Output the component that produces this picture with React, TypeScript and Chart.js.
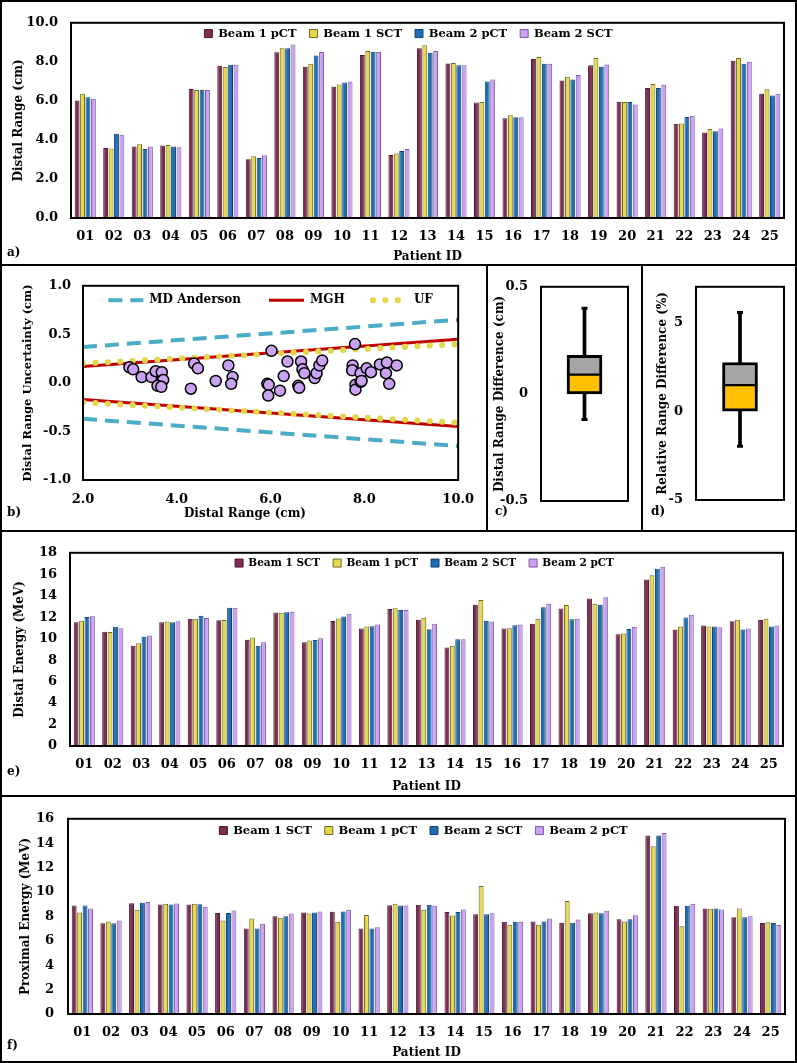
import React, { useEffect, useRef } from 'react';
import { Chart, registerables } from 'chart.js';

Chart.register(...registerables);

const FONT = "'DejaVu Serif', serif";
Chart.defaults.font.family = FONT;
Chart.defaults.font.size = 13;
(Chart.defaults.font as any).weight = 'bold';
Chart.defaults.color = '#000';

// ---------- shared categories ----------
const patientIds = ['01','02','03','04','05','06','07','08','09','10','11','12','13','14','15','16','17','18','19','20','21','22','23','24','25'];

// ---------- panel a: distal range (cm) ----------
const rangeB1pCT = [6.02,3.59,3.66,3.71,6.61,7.80,3.01,8.49,7.75,6.72,8.35,3.23,8.69,7.92,5.92,5.11,8.14,7.05,7.82,5.96,6.66,4.83,4.38,8.05,6.37];
const rangeB1SCT = [6.36,3.56,3.78,3.74,6.56,7.74,3.16,8.69,7.90,6.84,8.55,3.31,8.85,7.94,5.94,5.26,8.25,7.24,8.20,5.94,6.86,4.84,4.56,8.20,6.59];
const rangeB2pCT = [6.19,4.31,3.54,3.66,6.57,7.85,3.08,8.69,8.32,6.94,8.52,3.43,8.47,7.82,6.99,5.16,7.90,7.10,7.75,5.94,6.66,5.17,4.44,7.90,6.27];
const rangeB2SCT = [6.11,4.26,3.66,3.63,6.56,7.85,3.21,8.89,8.50,6.99,8.50,3.53,8.55,7.82,7.09,5.16,7.90,7.32,7.87,5.81,6.82,5.24,4.59,8.00,6.37];
const rangeTicks = [0, 2, 4, 6, 8, 10];

// ---------- panel e: distal energy (MeV) ----------
const distalE_B1SCT = [11.52,10.64,9.33,11.52,11.86,11.71,9.91,12.44,9.66,11.65,10.95,12.77,11.77,9.18,13.17,10.95,11.40,12.80,13.75,10.40,15.52,10.85,11.22,11.62,11.74];
const distalE_B1pCT = [11.68,10.61,9.57,11.59,11.86,11.74,10.12,12.41,9.82,11.89,11.13,12.84,11.95,9.33,13.60,10.98,11.86,13.14,13.26,10.49,15.91,11.13,11.13,11.77,11.86];
const distalE_B2SCT = [12.01,11.10,10.18,11.52,12.13,12.87,9.33,12.47,9.88,12.07,11.16,12.68,10.88,9.94,11.68,11.25,12.93,11.80,13.17,10.91,16.52,11.98,11.13,10.85,11.13];
const distalE_B2pCT = [12.10,10.98,10.30,11.62,11.92,12.87,9.66,12.50,10.03,12.32,11.31,12.68,11.40,9.94,11.59,11.31,13.26,11.86,13.87,11.10,16.71,12.23,11.07,10.95,11.22];
const distalETicks = [0, 2, 4, 6, 8, 10, 12, 14, 16, 18];

// ---------- panel f: proximal energy (MeV) ----------
const proxE_B1SCT = [8.89,7.43,9.08,8.97,8.97,8.28,7.00,8.01,8.31,8.39,7.00,8.92,8.95,8.36,8.17,7.56,7.59,7.48,8.25,7.77,14.64,8.87,8.65,7.93,7.45];
const proxE_B1pCT = [8.31,7.59,8.55,9.03,9.03,7.67,7.83,7.88,8.23,7.56,8.12,9.03,8.55,8.07,10.49,7.32,7.32,9.27,8.31,7.59,13.74,7.19,8.63,8.65,7.53];
const proxE_B2SCT = [8.89,7.43,9.11,8.97,9.00,8.28,7.00,8.01,8.31,8.41,7.00,8.89,8.95,8.36,8.17,7.56,7.59,7.48,8.25,7.77,14.64,8.87,8.65,7.93,7.45];
const proxE_B2pCT = [8.65,7.67,9.19,9.05,8.79,8.49,7.40,8.23,8.41,8.55,7.11,8.89,8.87,8.57,8.25,7.56,7.83,7.75,8.47,8.09,14.83,9.03,8.57,8.01,7.29];
const proxETicks = [0, 2, 4, 6, 8, 10, 12, 14, 16];

// ---------- panel b: distal range uncertainty ----------
const uncX = [2.99,3.07,3.25,3.46,3.55,3.68,3.71,3.59,3.67,4.30,4.37,4.45,4.83,5.10,5.19,5.16,5.93,5.96,5.95,6.02,6.20,6.28,6.36,6.59,6.61,6.65,6.68,6.72,6.94,6.98,7.04,7.10,7.80,7.75,7.74,7.81,7.81,7.92,7.92,7.94,8.05,8.14,8.33,8.46,8.48,8.53,8.69];
const uncY = [0.16,0.14,0.06,0.06,0.12,0.11,0.03,-0.03,-0.04,-0.06,0.20,0.15,0.02,0.18,0.06,-0.01,-0.01,-0.02,-0.13,0.33,-0.08,0.07,0.22,-0.03,-0.05,0.22,0.14,0.10,0.05,0.10,0.18,0.23,0.40,0.18,0.13,-0.02,-0.07,0.10,0.01,0.02,0.15,0.11,0.19,0.10,0.21,-0.01,0.18];
const bandX = [2, 10];
const mdaUpper = [0.37, 0.65];
const mdaLower = [-0.37, -0.65];
const mghUpper = [0.17, 0.45];
const mghLower = [-0.17, -0.45];
const ufUpper = [0.20, 0.40];
const ufLower = [-0.20, -0.41];
const uncXTicks = [2, 4, 6, 8, 10];
const uncYTicks = [-1, -0.5, 0, 0.5, 1];

// ---------- panels c, d: box plots (min, q1, median, q3, max) ----------
const rangeDiffBox = [-0.12, 0.0, 0.09, 0.18, 0.40];
const rangeDiffTicks = [-0.5, 0, 0.5];
const relDiffBox = [-1.97, 0.0, 1.47, 2.74, 5.56];
const relDiffRange = [-5, 7];
const relDiffTicks = [-5, 0, 5];

const C_MAROON = '#7d2f52';
const C_MAROON_B = '#4a1631';
const C_YELLOW = '#e6da4c';
const C_YELLOW_B = '#6e6622';
const C_BLUE = '#1e6eb4';
const C_BLUE_B = '#10426e';
const C_LAV = '#c9a3f1';
const C_LAV_B = '#7e58aa';

// ---------- plugins ----------
const framePlugin = {
  id: 'plotFrame',
  afterDraw(chart: any) {
    const { ctx, chartArea: a } = chart;
    ctx.save();
    ctx.strokeStyle = '#000';
    ctx.lineWidth = 2;
    ctx.strokeRect(a.left, a.top, a.right - a.left, a.bottom - a.top);
    ctx.restore();
  },
};

// places the library's own legend inside the plot frame (no space reserved above the plot)
const legendInside = {
  id: 'legendInside',
  beforeLayout(chart: any) {
    const lg = chart.legend;
    if (lg && !lg.__inside) {
      const fit = lg.fit.bind(lg);
      lg.fit = function () {
        fit();
        this.__h = this.height;
        this.height = 0;
      };
      lg.__inside = true;
    }
  },
  afterLayout(chart: any, _args: any, opts: any) {
    const lg = chart.legend;
    if (!lg) return;
    const a = chart.chartArea;
    const pad = lg.options.labels.padding || 0;
    const dx = opts.offsetX || 0;
    lg.left = a.left - 60 + dx;
    lg.right = a.right + 60 + dx;
    lg.width = lg.right - lg.left;
    lg.top = a.top + (opts.offset || 0) - pad;
    lg.bottom = lg.top + (lg.__h || 0);
  },
};

type Series = { label: string; data: number[]; fill: string; stroke: string };
type BarPanel = {
  width: number; height: number;
  plotLeft: number; plotTop: number; plotRight: number; plotBottom: number;
  series: Series[]; yTicks: number[]; decimals: number; yTitle: string;
  yTitlePad: number; yTickPad: number; xTickPad: number; xTitlePad: number;
  legendOffset: number; legendOffsetX: number; legendSize: number;
};

function barConfig(p: BarPanel): any {
  return {
    type: 'bar',
    data: {
      labels: patientIds,
      datasets: p.series.map((s) => ({
        label: s.label,
        data: s.data,
        backgroundColor: s.fill,
        borderColor: s.stroke,
        borderWidth: 1,
        categoryPercentage: 0.76,
        barPercentage: 0.9,
      })),
    },
    options: {
      responsive: false,
      animation: false,
      devicePixelRatio: 1,
      layout: { padding: { left: 0, top: p.plotTop, right: p.width - p.plotRight, bottom: 0 } },
      scales: {
        x: {
          grid: { display: false, drawTicks: false },
          border: { display: false },
          ticks: { padding: p.xTickPad, maxRotation: 0, autoSkip: false },
          title: { display: true, text: 'Patient ID', font: { size: 12 }, padding: { top: 0, bottom: p.xTitlePad } },
          afterFit: (s: any) => { s.height = p.height - p.plotBottom; },
        },
        y: {
          min: p.yTicks[0],
          max: p.yTicks[p.yTicks.length - 1],
          afterBuildTicks: (s: any) => { s.ticks = p.yTicks.map((v) => ({ value: v })); },
          ticks: { padding: p.yTickPad, callback: (v: any) => Number(v).toFixed(p.decimals) },
          grid: { display: false, drawTicks: false },
          border: { display: false },
          title: { display: true, text: p.yTitle, font: { size: 12 }, padding: { top: p.yTitlePad, bottom: 0 } },
          afterFit: (s: any) => { s.width = p.plotLeft; },
        },
      },
      plugins: {
        legend: {
          position: 'top',
          labels: { boxWidth: 8, boxHeight: 8, padding: 13, font: { size: p.legendSize, weight: 'bold' } },
        },
        legendInside: { offset: p.legendOffset, offsetX: p.legendOffsetX },
        tooltip: { enabled: false },
      },
    },
    plugins: [legendInside, framePlugin],
  };
}

function scatterConfig(): any {
  const W = 484, H = 264, L = 81, T = 17, R = 460, B = 214;
  const line = (label: string, ys: number[], color: string, width: number, dash: number[], cap: string, rank: number) => ({
    label,
    legendRank: rank,
    data: bandX.map((x, i) => ({ x, y: ys[i] })),
    showLine: true,
    pointRadius: 0,
    pointStyle: 'line',
    borderColor: color,
    backgroundColor: color,
    borderWidth: width,
    borderDash: dash,
    borderCapStyle: cap,
  });
  return {
    type: 'scatter',
    data: {
      datasets: [
        {
          label: 'Patients',
          data: uncX.map((x, i) => ({ x, y: uncY[i] })),
          pointRadius: 5.5,
          backgroundColor: C_LAV,
          borderColor: '#000',
          borderWidth: 1.5,
        },
        line('UF', ufUpper, '#e3d64a', 6, [0.1, 12.3], 'round', 3),
        line('UF', ufLower, '#e3d64a', 6, [0.1, 12.3], 'round', 0),
        line('MGH', mghUpper, '#c00000', 3, [], 'butt', 2),
        line('MGH', mghLower, '#c00000', 3, [], 'butt', 0),
        line('MD Anderson', mdaUpper, '#4bacc6', 4, [14, 8], 'butt', 1),
        line('MD Anderson', mdaLower, '#4bacc6', 4, [14, 8], 'butt', 0),
      ],
    },
    options: {
      responsive: false,
      animation: false,
      devicePixelRatio: 1,
      layout: { padding: { left: 0, top: T, right: W - R, bottom: 0 } },
      scales: {
        x: {
          type: 'linear',
          min: uncXTicks[0],
          max: uncXTicks[uncXTicks.length - 1],
          afterBuildTicks: (s: any) => { s.ticks = uncXTicks.map((v) => ({ value: v })); },
          ticks: { padding: 12, maxRotation: 0, callback: (v: any) => Number(v).toFixed(1) },
          grid: { display: false, drawTicks: false },
          border: { display: false },
          title: { display: false },
          afterFit: (s: any) => { s.height = H - B; },
        },
        y: {
          min: uncYTicks[0],
          max: uncYTicks[uncYTicks.length - 1],
          afterBuildTicks: (s: any) => { s.ticks = uncYTicks.map((v) => ({ value: v })); },
          ticks: { padding: 12, callback: (v: any) => Number(v).toFixed(1) },
          grid: { display: false, drawTicks: false },
          border: { display: false },
          title: { display: true, text: 'Distal Range Uncertainty (cm)', font: { size: 11.5 }, padding: { top: 19, bottom: 0 } },
          afterFit: (s: any) => { s.width = L; },
        },
      },
      plugins: {
        legend: {
          position: 'top',
          labels: {
            usePointStyle: true,
            pointStyleWidth: 35,
            padding: 28,
            font: { size: 12, weight: 'bold' },
            generateLabels: (chart: any) =>
              chart.data.datasets
                .map((d: any, i: number) => ({ d, i }))
                .filter((o: any) => o.d.legendRank > 0)
                .sort((a: any, b: any) => a.d.legendRank - b.d.legendRank)
                .map(({ d, i }: any) => ({
                  text: d.label,
                  datasetIndex: i,
                  strokeStyle: d.borderColor,
                  fillStyle: d.borderColor,
                  lineWidth: d.borderWidth,
                  lineDash: d.borderDash,
                  lineCap: d.borderCapStyle,
                  pointStyle: 'line',
                  hidden: false,
                  fontColor: '#000',
                })),
          },
        },
        legendInside: { offset: 8.5, offsetX: 0 },
        tooltip: { enabled: false },
      },
    },
    plugins: [legendInside, framePlugin],
  };
}

type BoxPanel = {
  width: number; height: number; plotLeft: number; plotTop: number; plotRight: number; plotBottom: number;
  stats: number[]; range: number[]; ticks: number[]; title: string; titlePad: number; tickPad: number;
};

function boxConfig(p: BoxPanel): any {
  const [mn, q1, med, q3, mx] = p.stats;
  const cap = (v: number) => ({
    type: 'line',
    data: [v],
    showLine: false,
    pointStyle: 'line',
    pointRadius: 3,
    pointBorderWidth: 3,
    pointBorderColor: '#000',
    pointBackgroundColor: '#000',
  });
  return {
    type: 'bar',
    data: {
      labels: [''],
      datasets: [
        { data: [[q1, med]], backgroundColor: '#ffc000', borderColor: '#000', borderWidth: { top: 1.5, left: 3, right: 3, bottom: 3 }, borderSkipped: false, barThickness: 35, grouped: false },
        { data: [[med, q3]], backgroundColor: '#a6a6a6', borderColor: '#000', borderWidth: { top: 3, left: 3, right: 3, bottom: 1.5 }, borderSkipped: false, barThickness: 35, grouped: false },
        { data: [[mn, mx]], backgroundColor: '#000', borderWidth: 0, barThickness: 3, grouped: false },
        cap(mx),
        cap(mn),
      ],
    },
    options: {
      responsive: false,
      animation: false,
      devicePixelRatio: 1,
      layout: { padding: { left: 0, top: p.plotTop, right: p.width - p.plotRight, bottom: p.height - p.plotBottom } },
      scales: {
        x: { display: false },
        y: {
          min: p.range[0],
          max: p.range[1],
          afterBuildTicks: (s: any) => { s.ticks = p.ticks.map((v) => ({ value: v })); },
          ticks: { padding: p.tickPad },
          grid: { display: false, drawTicks: false },
          border: { display: false },
          title: { display: true, text: p.title, font: { size: 12 }, padding: { top: p.titlePad, bottom: 0 } },
          afterFit: (s: any) => { s.width = p.plotLeft; },
        },
      },
      plugins: { legend: { display: false }, tooltip: { enabled: false } },
    },
    plugins: [framePlugin],
  };
}

function ChartCanvas(props: { left: number; top: number; width: number; height: number; make: () => any }) {
  const ref = useRef<HTMLCanvasElement>(null);
  useEffect(() => {
    if (!ref.current) return;
    const chart = new Chart(ref.current, props.make());
    return () => chart.destroy();
  }, []);
  return (
    <canvas
      ref={ref}
      width={props.width}
      height={props.height}
      style={{ position: 'absolute', left: props.left, top: props.top, width: props.width, height: props.height }}
    />
  );
}

const seriesA: Series[] = [
  { label: 'Beam 1 pCT', data: rangeB1pCT, fill: C_MAROON, stroke: C_MAROON_B },
  { label: 'Beam 1 SCT', data: rangeB1SCT, fill: C_YELLOW, stroke: C_YELLOW_B },
  { label: 'Beam 2 pCT', data: rangeB2pCT, fill: C_BLUE, stroke: C_BLUE_B },
  { label: 'Beam 2 SCT', data: rangeB2SCT, fill: C_LAV, stroke: C_LAV_B },
];
const seriesE: Series[] = [
  { label: 'Beam 1 SCT', data: distalE_B1SCT, fill: C_MAROON, stroke: C_MAROON_B },
  { label: 'Beam 1 pCT', data: distalE_B1pCT, fill: C_YELLOW, stroke: C_YELLOW_B },
  { label: 'Beam 2 SCT', data: distalE_B2SCT, fill: C_BLUE, stroke: C_BLUE_B },
  { label: 'Beam 2 pCT', data: distalE_B2pCT, fill: C_LAV, stroke: C_LAV_B },
];
const seriesF: Series[] = [
  { label: 'Beam 1 SCT', data: proxE_B1SCT, fill: C_MAROON, stroke: C_MAROON_B },
  { label: 'Beam 1 pCT', data: proxE_B1pCT, fill: C_YELLOW, stroke: C_YELLOW_B },
  { label: 'Beam 2 SCT', data: proxE_B2SCT, fill: C_BLUE, stroke: C_BLUE_B },
  { label: 'Beam 2 pCT', data: proxE_B2pCT, fill: C_LAV, stroke: C_LAV_B },
];

const makeA = () => barConfig({
  width: 793, height: 262, plotLeft: 69, plotTop: 15, plotRight: 782, plotBottom: 216,
  series: seriesA, yTicks: rangeTicks, decimals: 1, yTitle: 'Distal Range (cm)',
  yTitlePad: 10, yTickPad: 13, xTickPad: 11, xTitlePad: 0,
  legendOffset: 5, legendOffsetX: -19, legendSize: 11.5,
});
const makeE = () => barConfig({
  width: 793, height: 263, plotLeft: 68, plotTop: 17, plotRight: 781, plotBottom: 214,
  series: seriesE, yTicks: distalETicks, decimals: 0, yTitle: 'Distal Energy (MeV)',
  yTitlePad: 11, yTickPad: 13, xTickPad: 11, xTitlePad: 1,
  legendOffset: 5, legendOffsetX: -2, legendSize: 10.5,
});
const makeF = () => barConfig({
  width: 793, height: 264, plotLeft: 66, plotTop: 16, plotRight: 783, plotBottom: 217,
  series: seriesF, yTicks: proxETicks, decimals: 0, yTitle: 'Proximal Energy (MeV)',
  yTitlePad: 17, yTickPad: 14, xTickPad: 11, xTitlePad: 1,
  legendOffset: 6, legendOffsetX: -3, legendSize: 11.5,
});
const makeC = () => boxConfig({
  width: 153, height: 264, plotLeft: 53, plotTop: 13, plotRight: 140, plotBottom: 235,
  stats: rangeDiffBox, range: [rangeDiffTicks[0], rangeDiffTicks[2]], ticks: rangeDiffTicks,
  title: 'Distal Range Difference (cm)', titlePad: 5, tickPad: 13,
});
const makeD = () => boxConfig({
  width: 152, height: 264, plotLeft: 53, plotTop: 14, plotRight: 141, plotBottom: 234,
  stats: relDiffBox, range: relDiffRange, ticks: relDiffTicks,
  title: 'Relative Range Difference (%)', titlePad: 13, tickPad: 13,
});

const lineStyle = (left: number, top: number, width: number, height: number): React.CSSProperties => ({
  position: 'absolute', left, top, width, height, background: '#000',
});

const labelStyle = (left: number, top: number): React.CSSProperties => ({
  position: 'absolute', left, top, font: `bold 12px ${FONT}`, lineHeight: '16px', color: '#000', whiteSpace: 'nowrap',
});

export default function App() {
  return (
    <div style={{ position: 'absolute', left: 0, top: 0, width: 797, height: 1063, background: '#fff', overflow: 'hidden' }}>
      <ChartCanvas left={2} top={2} width={793} height={262} make={makeA} />
      <ChartCanvas left={2} top={266} width={484} height={264} make={scatterConfig} />
      <ChartCanvas left={488} top={266} width={153} height={264} make={makeC} />
      <ChartCanvas left={643} top={266} width={152} height={264} make={makeD} />
      <ChartCanvas left={2} top={532} width={793} height={263} make={makeE} />
      <ChartCanvas left={2} top={797} width={793} height={264} make={makeF} />

      <div style={{ position: 'absolute', left: 0, top: 0, width: 797, height: 1063, border: '2px solid #000', boxSizing: 'border-box', pointerEvents: 'none' }} />
      <div style={lineStyle(0, 264, 797, 2)} />
      <div style={lineStyle(0, 530, 797, 2)} />
      <div style={lineStyle(0, 795, 797, 2)} />
      <div style={lineStyle(486, 264, 2, 268)} />
      <div style={lineStyle(641, 264, 2, 268)} />

      <span style={{ ...labelStyle(145, 505), width: 200, textAlign: 'center' }}>Distal Range (cm)</span>

      <span style={labelStyle(7, 244)}>a)</span>
      <span style={labelStyle(7, 504)}>b)</span>
      <span style={labelStyle(495, 503)}>c)</span>
      <span style={labelStyle(651, 503)}>d)</span>
      <span style={labelStyle(7, 763)}>e)</span>
      <span style={labelStyle(7, 1037)}>f)</span>
    </div>
  );
}
